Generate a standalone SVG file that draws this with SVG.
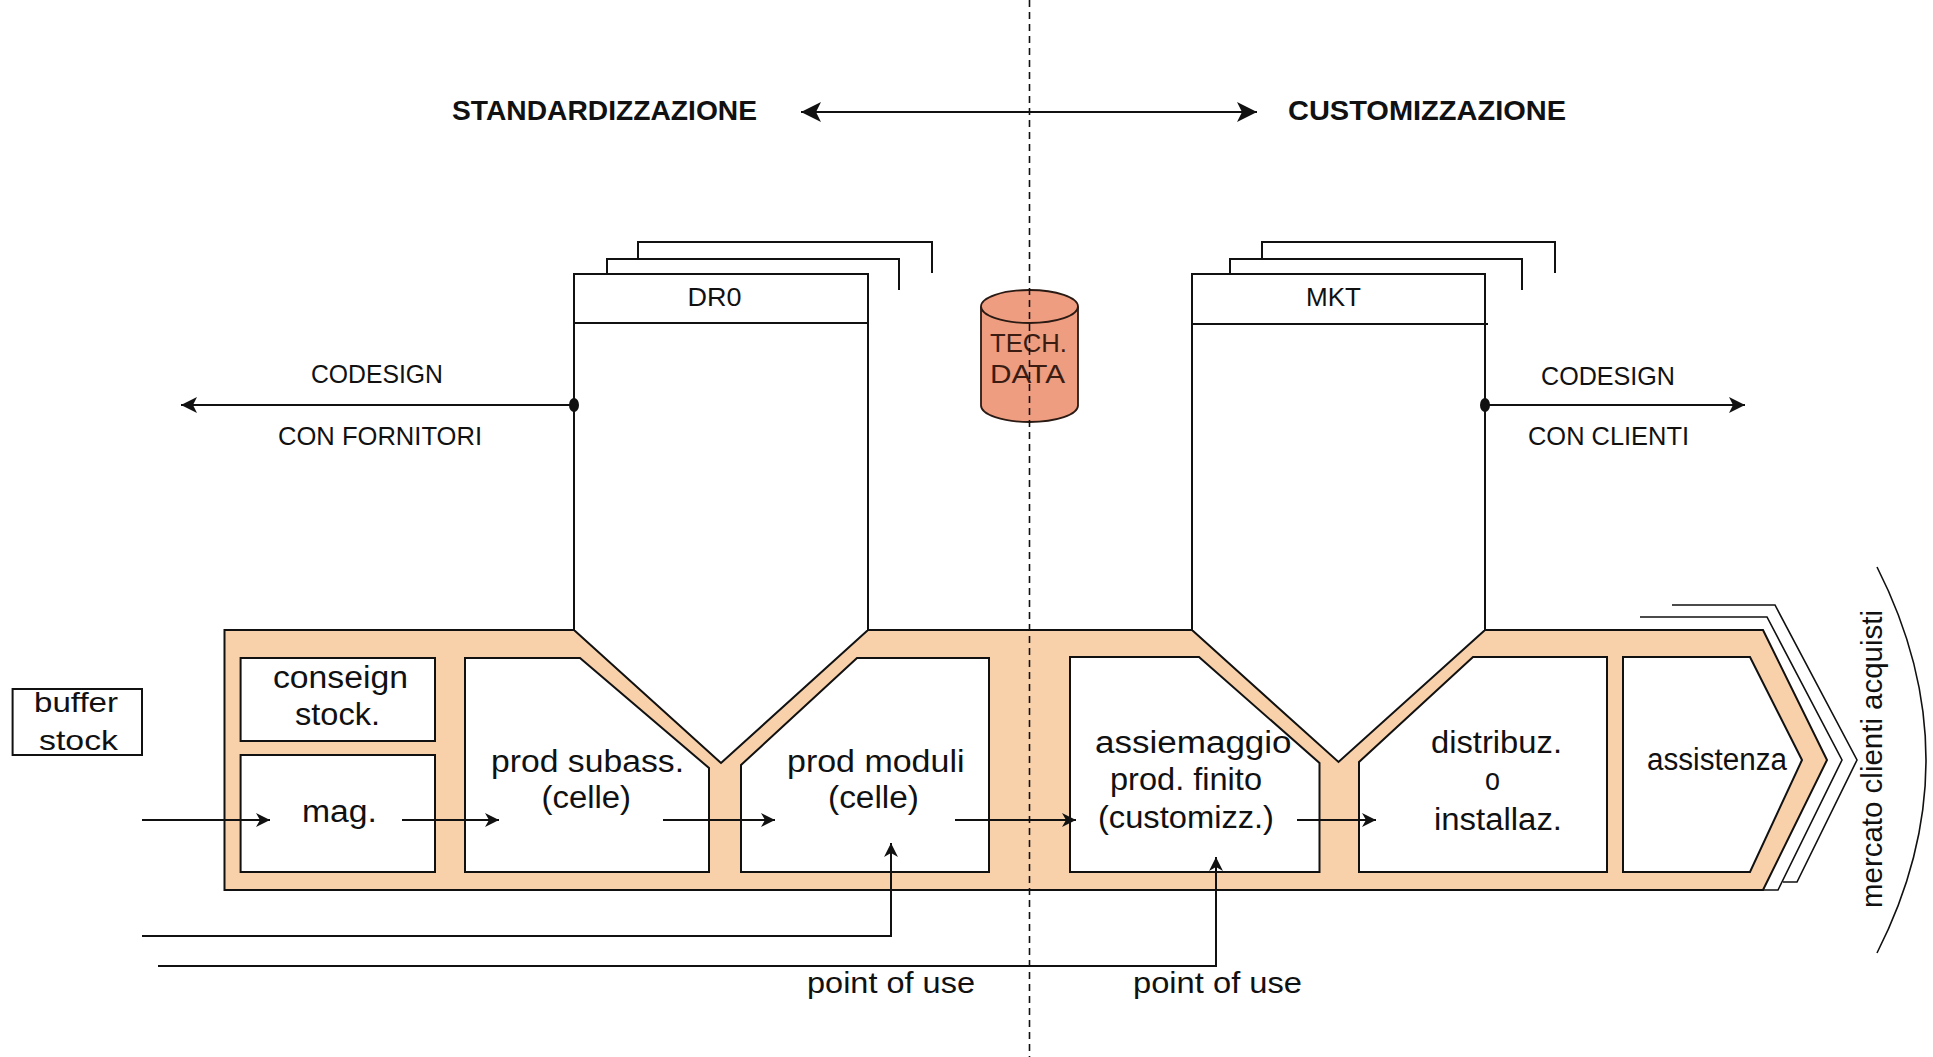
<svg xmlns="http://www.w3.org/2000/svg" width="1933" height="1057" viewBox="0 0 1933 1057">
<style>
.ln{fill:none;stroke:#111;stroke-width:2}
.th{fill:none;stroke:#111;stroke-width:1.6}
.bx{fill:#fff;stroke:#111;stroke-width:2}
.t{font-family:"Liberation Sans",Arial,sans-serif;fill:#111}
.lbl{font-size:31px}
.cap{font-size:25px}
.ttl{font-size:28px;font-weight:bold}
.pou{font-size:29px}
</style>
<defs>
<marker id="ahBig" markerUnits="userSpaceOnUse" markerWidth="22" markerHeight="22" refX="20" refY="10" orient="auto-start-reverse"><path d="M0,0 L20,10 L0,20 L5,10 z" fill="#111"/></marker>
<marker id="ahM" markerUnits="userSpaceOnUse" markerWidth="18" markerHeight="16" refX="16" refY="8" orient="auto-start-reverse"><path d="M0,0 L16,8 L0,16 L4,8 z" fill="#111"/></marker>
<marker id="ahS" markerUnits="userSpaceOnUse" markerWidth="16" markerHeight="16" refX="14" refY="8" orient="auto"><path d="M0,1 L14,8 L0,15 L4,8 z" fill="#111"/></marker>
</defs>
<rect width="1933" height="1057" fill="#fff"/>

<g id="band">
<path d="M224.5,630 H574 L721,763 L868,630 H1192 L1338.5,762 L1485,630 H1763 L1827,760 L1763,890 H224.5 Z" fill="#F8D1AA" stroke="#111" stroke-width="2"/>
<polyline class="th" points="1640,617 1767,617 1842,760 1778,890 1763,890"/>
<polyline class="th" points="1672,605 1775,605 1857,760 1797,882 1783,882"/>
</g>

<g id="col-dr0">
<polyline class="ln" points="638,259 638,242 932,242 932,273"/>
<polyline class="ln" points="607,274 607,259 899,259 899,290"/>
<path class="bx" d="M574,630 V274 H868 V630"/>
<line class="ln" x1="574" y1="323" x2="868" y2="323"/>
<text class="t cap" x="687.5" y="306" textLength="54" lengthAdjust="spacingAndGlyphs">DR0</text>
</g>

<g id="col-mkt">
<polyline class="ln" points="1262,259 1262,242 1555,242 1555,273"/>
<polyline class="ln" points="1230,274 1230,259 1522,259 1522,290"/>
<path class="bx" d="M1192,630 V274 H1485 V630"/>
<line class="ln" x1="1192" y1="324" x2="1488" y2="324"/>
<text class="t cap" x="1306" y="306" textLength="55" lengthAdjust="spacingAndGlyphs">MKT</text>
</g>

<g id="techdata">
<path d="M981,306.5 V405.5 A48.5,16.5 0 0 0 1078,405.5 V306.5" fill="#EE9D80" stroke="#2a1a14" stroke-width="1.8"/>
<ellipse cx="1029.5" cy="306.5" rx="48.5" ry="16.5" fill="#EE9D80" stroke="#2a1a14" stroke-width="1.8"/>
<text class="t" style="font-size:26px;fill:#3a1c12" x="990" y="352" textLength="77" lengthAdjust="spacingAndGlyphs">TECH.</text>
<text class="t" style="font-size:26px;fill:#3a1c12" x="990" y="383" textLength="75" lengthAdjust="spacingAndGlyphs">DATA</text>
</g>

<g id="buffer-stock">
<rect class="bx" x="12.6" y="689" width="129.4" height="66"/>
<text class="t" style="font-size:28px" x="34" y="712" textLength="84" lengthAdjust="spacingAndGlyphs">buffer</text>
<text class="t" style="font-size:28px" x="39" y="750" textLength="79" lengthAdjust="spacingAndGlyphs">stock</text>
</g>

<g id="conseign">
<rect class="bx" x="240.6" y="658" width="194.4" height="83"/>
<text class="t lbl" x="273" y="688" textLength="135" lengthAdjust="spacingAndGlyphs">conseign</text>
<text class="t lbl" x="295" y="725" textLength="85" lengthAdjust="spacingAndGlyphs">stock.</text>
</g>

<g id="mag">
<rect class="bx" x="240.6" y="755" width="194.4" height="117"/>
<text class="t lbl" x="302" y="822" textLength="75" lengthAdjust="spacingAndGlyphs">mag.</text>
</g>

<g id="prod-subass">
<polygon class="bx" points="465,658 580,658 709,768 709,872 465,872"/>
<text class="t lbl" x="491" y="772" textLength="193" lengthAdjust="spacingAndGlyphs">prod subass.</text>
<text class="t lbl" x="541.5" y="808" textLength="89.5" lengthAdjust="spacingAndGlyphs">(celle)</text>
</g>

<g id="prod-moduli">
<polygon class="bx" points="741,765 857,658 989,658 989,872 741,872"/>
<text class="t lbl" x="787" y="772" textLength="177.5" lengthAdjust="spacingAndGlyphs">prod moduli</text>
<text class="t lbl" x="828" y="808" textLength="91" lengthAdjust="spacingAndGlyphs">(celle)</text>
</g>

<g id="assiemaggio">
<polygon class="bx" points="1070,657 1199,657 1319.5,763 1319.5,872 1070,872"/>
<text class="t lbl" x="1095" y="753" textLength="196.6" lengthAdjust="spacingAndGlyphs">assiemaggio</text>
<text class="t lbl" x="1110" y="790" textLength="152" lengthAdjust="spacingAndGlyphs">prod. finito</text>
<text class="t lbl" x="1098" y="828" textLength="176" lengthAdjust="spacingAndGlyphs">(customizz.)</text>
</g>

<g id="distribuz">
<polygon class="bx" points="1359,762 1473,657 1607,657 1607,872 1359,872"/>
<text class="t lbl" x="1431" y="753" textLength="131" lengthAdjust="spacingAndGlyphs">distribuz.</text>
<text class="t lbl" x="1485" y="790" textLength="15" lengthAdjust="spacingAndGlyphs">o</text>
<text class="t lbl" x="1434" y="830" textLength="128" lengthAdjust="spacingAndGlyphs">installaz.</text>
</g>

<g id="assistenza">
<polygon class="bx" points="1623,657 1750,657 1802,760 1750,872 1623,872"/>
<text class="t lbl" x="1647" y="770" textLength="140" lengthAdjust="spacingAndGlyphs">assistenza</text>
</g>

<g id="labels">
<text class="t ttl" x="452" y="120" textLength="305" lengthAdjust="spacingAndGlyphs">STANDARDIZZAZIONE</text>
<text class="t ttl" x="1288" y="120" textLength="278" lengthAdjust="spacingAndGlyphs">CUSTOMIZZAZIONE</text>
<text class="t cap" x="311" y="383" textLength="132" lengthAdjust="spacingAndGlyphs">CODESIGN</text>
<text class="t cap" x="278" y="445" textLength="204" lengthAdjust="spacingAndGlyphs">CON FORNITORI</text>
<text class="t cap" x="1541" y="385" textLength="134" lengthAdjust="spacingAndGlyphs">CODESIGN</text>
<text class="t cap" x="1528" y="445" textLength="161" lengthAdjust="spacingAndGlyphs">CON CLIENTI</text>
<text class="t pou" x="807" y="993" textLength="168" lengthAdjust="spacingAndGlyphs">point of use</text>
<text class="t pou" x="1133" y="993" textLength="169" lengthAdjust="spacingAndGlyphs">point of use</text>
<text class="t" style="font-size:29px" transform="translate(1882,759) rotate(-90)" x="0" y="0" text-anchor="middle" textLength="298" lengthAdjust="spacingAndGlyphs">mercato clienti acquisti</text>
<path class="th" d="M1877,567 Q1975,760 1877,953"/>
</g>

<g id="connectors">
<line class="ln" x1="801" y1="112" x2="1257" y2="112" marker-start="url(#ahBig)" marker-end="url(#ahBig)"/>
<line class="ln" x1="574" y1="405" x2="181" y2="405" marker-end="url(#ahM)"/>
<ellipse cx="574" cy="405" rx="5" ry="7" fill="#111"/>
<line class="ln" x1="1485" y1="405" x2="1745" y2="405" marker-end="url(#ahM)"/>
<ellipse cx="1485" cy="405" rx="5" ry="7" fill="#111"/>
<line class="ln" x1="142" y1="820" x2="270" y2="820" marker-end="url(#ahS)"/>
<line class="ln" x1="402" y1="820" x2="499" y2="820" marker-end="url(#ahS)"/>
<line class="ln" x1="663" y1="820" x2="775" y2="820" marker-end="url(#ahS)"/>
<line class="ln" x1="955" y1="820" x2="1076" y2="820" marker-end="url(#ahS)"/>
<line class="ln" x1="1297" y1="820" x2="1376" y2="820" marker-end="url(#ahS)"/>
<polyline class="ln" points="142,936 891,936 891,843" marker-end="url(#ahS)"/>
<polyline class="ln" points="158,966 1216,966 1216,857" marker-end="url(#ahS)"/>
<line x1="1029.5" y1="0" x2="1029.5" y2="1057" stroke="#111" stroke-width="1.6" stroke-dasharray="7 5"/>
</g>
</svg>
